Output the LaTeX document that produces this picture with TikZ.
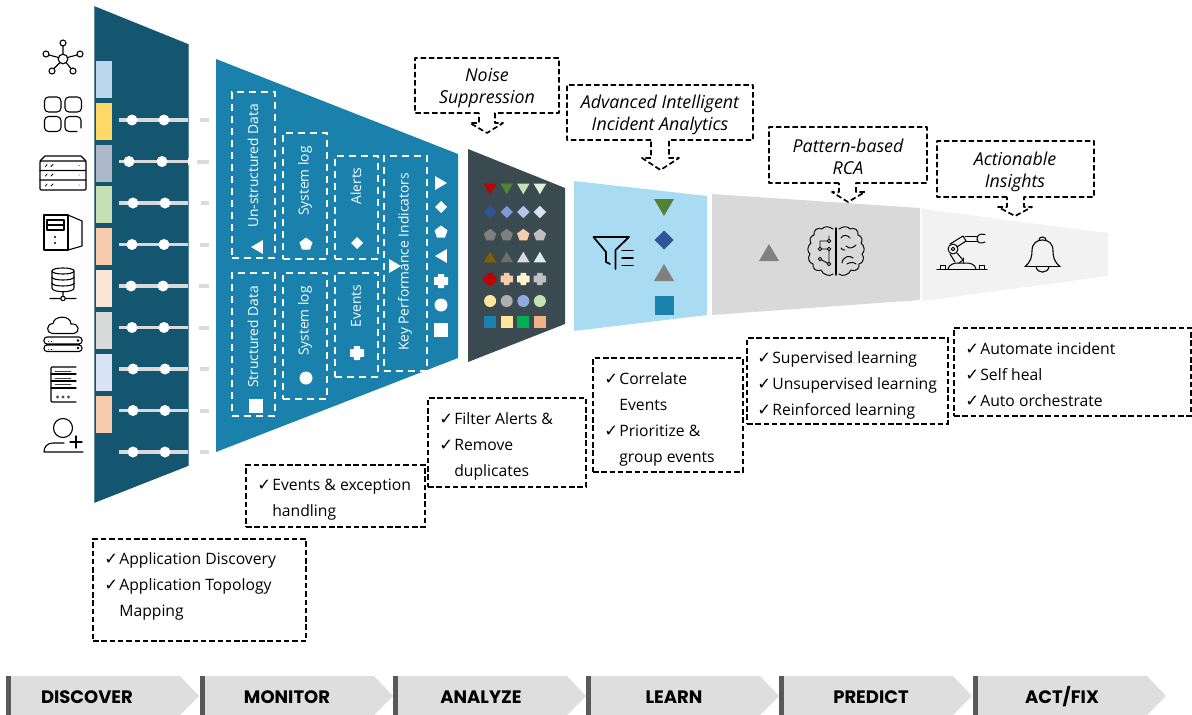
\documentclass[tikz,border=0pt]{standalone}
\usepackage{fontspec}
\setmainfont{Open Sans}
\newfontfamily\symfont{DejaVu Sans}
\newfontfamily\headfont{Poppins}
\usetikzlibrary{calc}
\definecolor{dkteal}{HTML}{14566F}
\definecolor{midblue}{HTML}{1A80AC}
\definecolor{slatec}{HTML}{3A4A50}
\definecolor{skyc}{HTML}{A9DBF2}
\tikzset{
  blackdash/.style={draw=black,line width=1.7pt,dash pattern=on 5.5pt off 2.8pt},
  whitedash/.style={draw=white,line width=1.4pt,dash pattern=on 7pt off 5pt},
  wbox/.style={whitedash,rectangle,inner sep=0pt,fill=none},
  rottext/.style={text=white,rotate=90,font=\fontsize{13.8}{17}\selectfont,inner sep=0pt},
  calltext/.style={align=center,font=\fontsize{17.8}{22}\selectfont\itshape,inner sep=0pt},
  listtext/.style={anchor=north west,align=left,inner sep=0pt,font=\fontsize{15.7}{26}\selectfont},
  listbox/.style={blackdash,rectangle,inner sep=0pt},
  headtext/.style={font=\fontsize{18}{20}\selectfont\headfont\bfseries,inner sep=0pt},
  ico/.style={draw=black,line width=1.1pt,line join=round,line cap=round,fill=none},
  barline/.style={draw=black!15,line width=3.6pt},
}
% small glyphs (x,y,radius,colour)
\newcommand{\mkDown}[4]{\fill[#4] ($(#1,#2)+(-#3,-#3*0.85)$)--($(#1,#2)+(#3,-#3*0.85)$)--($(#1,#2)+(0,#3*0.85)$)--cycle;}
\newcommand{\mkUp}[4]{\fill[#4] ($(#1,#2)+(-#3,#3*0.85)$)--($(#1,#2)+(#3,#3*0.85)$)--($(#1,#2)+(0,-#3*0.85)$)--cycle;}
\newcommand{\mkLeft}[4]{\fill[#4] ($(#1,#2)+(#3*0.85,-#3)$)--($(#1,#2)+(#3*0.85,#3)$)--($(#1,#2)+(-#3*0.85,0)$)--cycle;}
\newcommand{\mkRight}[4]{\fill[#4] ($(#1,#2)+(-#3*0.85,-#3)$)--($(#1,#2)+(-#3*0.85,#3)$)--($(#1,#2)+(#3*0.85,0)$)--cycle;}
\newcommand{\mkDia}[4]{\fill[#4] ($(#1,#2)+(-#3,0)$)--($(#1,#2)+(0,-#3)$)--($(#1,#2)+(#3,0)$)--($(#1,#2)+(0,#3)$)--cycle;}
\newcommand{\mkPent}[4]{\fill[#4] ($(#1,#2)+(0,-#3)$)--($(#1,#2)+(#3,-#3*0.25)$)--($(#1,#2)+(#3*0.62,#3*0.85)$)--($(#1,#2)+(-#3*0.62,#3*0.85)$)--($(#1,#2)+(-#3,-#3*0.25)$)--cycle;}
\newcommand{\mkPlus}[4]{\fill[#4,rounded corners=0.5pt] ($(#1,#2)+(-#3*0.45,-#3)$)--($(#1,#2)+(#3*0.45,-#3)$)--($(#1,#2)+(#3*0.45,-#3*0.55)$)--($(#1,#2)+(#3,-#3*0.55)$)--($(#1,#2)+(#3,#3*0.55)$)--($(#1,#2)+(#3*0.45,#3*0.55)$)--($(#1,#2)+(#3*0.45,#3)$)--($(#1,#2)+(-#3*0.45,#3)$)--($(#1,#2)+(-#3*0.45,#3*0.55)$)--($(#1,#2)+(-#3,#3*0.55)$)--($(#1,#2)+(-#3,-#3*0.55)$)--($(#1,#2)+(-#3*0.45,-#3*0.55)$)--cycle;}
\newcommand{\mkCirc}[4]{\fill[#4] (#1,#2) circle[radius=#3pt];}
\newcommand{\mkSq}[4]{\fill[#4] ($(#1,#2)+(-#3,-#3)$) rectangle ($(#1,#2)+(#3,#3)$);}
% callout: left, top, right, bottom, stemL, stemR, wingL, wingR, wingY
\newcommand{\mkCallout}[9]{\draw[blackdash,line join=round] (#5,#4)--(#1,#4)--(#1,#2)--(#3,#2)--(#3,#4)--(#6,#4)--(#6,#9)--(#8,#9)--(\tipx,\tipy)--(#7,#9)--(#5,#9)--cycle;}
\newcommand{\chk}{\makebox[15pt][l]{\symfont\fontsize{16.5}{26}\selectfont ✓}}
\newcommand{\ind}{\hspace*{15pt}}
\newcommand{\myrow}[4]{%
  \draw[barline] (119,#1)--(188,#1);
  \fill[white] (#2,#1) circle[radius=5.5pt] (#3,#1) circle[radius=5.5pt];
  \fill[black!14] (#4,#1-2) rectangle (209,#1+2);}
\begin{document}
\begin{tikzpicture}[x=1pt,y=-1pt]
\useasboundingbox (0,0) rectangle (1192,715);
% ----- funnels
\fill[dkteal] (94,6)--(188,44)--(188,466)--(94,503)--cycle;
\draw[dkteal!70!white,line width=.6pt] (94,6)--(94,503) (188,44)--(188,466);
\fill[midblue] (216,59)--(458,154)--(458,358)--(216,452)--cycle;
\fill[slatec] (468,149)--(565,188)--(565,324)--(468,362)--cycle;
\fill[skyc] (574,181)--(707,196)--(707,315)--(574,331)--cycle;
\fill[black!15] (712,194)--(920,208)--(920,300)--(712,315)--cycle;
\fill[black!5] (922,209)--(1108,233)--(1108,276)--(922,301)--cycle;
% ----- colour chips
\foreach \ya/\c in {61/BDD7EE,103/FFD966,145/ADB9CA,186/C5E0B4,228/F8CBAD,270/FBE5D6,312/D9D9D9,354/DAE3F3,396/F8CBAD}{
  \definecolor{chipc}{HTML}{\c}
  \fill[chipc] (96,\ya) rectangle (112,\ya+37);}
% ----- rows
\myrow{120}{132}{164}{200}
\myrow{161.5}{129}{162}{197}
\fill[white] (188,158)--(190,158)--(190,165)--(188,165)--cycle;
\myrow{203}{133}{165}{201}
\myrow{244.5}{132}{164}{200}
\myrow{286}{131}{163}{199}
\myrow{327.5}{132}{164}{199}
\myrow{369}{133}{165}{200}
\myrow{410.5}{133}{165}{200}
\myrow{452}{133}{165}{200}
% ----- left icons
\begin{scope}[ico]
% network
\draw (63,59) circle[radius=4.8pt] (63,43) circle[radius=3pt] (46,54) circle[radius=3pt] (80,54) circle[radius=3pt] (52,71) circle[radius=3pt] (73,71) circle[radius=3pt];
\draw (63,46)--(63,54) (49,55)--(58.5,57.5) (77,55)--(67.5,57.5) (54,68.5)--(60,62.5) (71,68.5)--(66,62.5);
% apps
\draw[rounded corners=4pt] (44.5,97) rectangle (61,112) (65,97) rectangle (81.5,112) (44.5,116.5) rectangle (61,131.5);
\draw[rounded corners=4pt] (81,128) -- (81,116.5)--(65,116.5)--(65,131.5)--(77,131.5);
% rack
\draw[rounded corners=1pt] (40,161) rectangle (86,190);
\draw (40,161)--(45,156)--(81,156)--(86,161) (40,170.5)--(86,170.5) (40,180)--(86,180);
\foreach \yy in {165.5,175,185}{\draw[line width=.8pt] (45.5,\yy+1)--(47,\yy-1) (51,\yy+1)--(53,\yy-1) (79,\yy)--(79.3,\yy);}
% tower
\draw (44,215) rectangle (68,250);
\draw (68,215)--(82,221)--(82,246)--(68,250);
\draw (47,220) rectangle (64,230) (47,225)--(64,225);
\fill[black] (55,237) circle[radius=1.2pt] (55,243) circle[radius=1.2pt];
% database
\draw (52,271) .. controls (52,267) and (74,267) .. (74,271) .. controls (74,275) and (52,275) .. (52,271);
\draw (52,271)--(52,288) .. controls (52,293) and (74,293) .. (74,288)--(74,271);
\draw (52,277) .. controls (52,281) and (74,281) .. (74,277) (52,283) .. controls (52,287) and (74,287) .. (74,283);
\draw (63,292)--(63,296) (50,298.5)--(60.5,298.5) (65.5,298.5)--(76,298.5) (63,298.5) circle[radius=2.2pt];
% cloud + servers
\draw (52,333.5) .. controls (46,333) and (46,324) .. (53,323.5) .. controls (54,315) and (71,315) .. (71,324) .. controls (80,323) and (80,333) .. (74,333.5) -- cycle;
\draw[rounded corners=3pt] (44,337) rectangle (82,344) (44,345) rectangle (82,351.5);
\fill[black] (78,340.5) circle[radius=1.3pt] (78,348) circle[radius=1.3pt];
\draw[line width=.5pt] (48.5,341)--(49,341) (51,341)--(52,341) (48.5,349)--(49,349) (51,349)--(52,349);
% server
\draw[rounded corners=1pt] (76,367)--(51,367)--(51,402)--(76,402);
\draw (51,374)--(76,374) (51,381)--(76,381) (51,388)--(76,388);
\draw[line width=.8pt,black!75] (55,371)--(71,371) (55,378)--(71,378) (55,384.5)--(71,384.5);
\fill[black!70] (57.5,397) circle[radius=1.6pt] (63,397) circle[radius=1.6pt] (68.5,397) circle[radius=1.6pt];
% user
\draw (63,428) circle[radius=9.5pt];
\draw (64,443)--(53,443) .. controls (47,443) and (44,447) .. (44,452)--(83,452);
\draw (76,436)--(76,448) (70,442)--(82,442);
\end{scope}
% ----- monitor boxes
\node[wbox,minimum width=43pt,minimum height=166pt] (unstr) at (253.5,175) {};
\node[wbox,minimum width=43pt,minimum height=143pt] (str) at (253.5,344.5) {};
\node[wbox,minimum width=44pt,minimum height=126pt] (syslogu) at (305,196) {};
\node[wbox,minimum width=44pt,minimum height=126pt] (sysloglo) at (305,336) {};
\node[wbox,minimum width=43pt,minimum height=103pt] (alerts) at (356.5,207.5) {};
\node[wbox,minimum width=43pt,minimum height=104pt] (events) at (356.5,325) {};
\node[wbox,minimum width=43pt,minimum height=215pt] (kpi) at (405.5,263.5) {};
\node[rottext] (t1) at (253,166) {Un-structured Data};
\node[rottext] (t2) at (253,337) {Structured Data};
\node[rottext] (t3) at (305,181) {System log};
\node[rottext] (t4) at (305,321) {System log};
\node[rottext] (t5) at (356,186) {Alerts};
\node[rottext] (t6) at (356,306) {Events};
\node[rottext] (t7) at (405,262) {Key Performance Indicators};
\mkLeft{257}{247}{7}{white}
\mkPent{306}{244}{6.5}{white}
\mkDia{357}{243}{6}{white}
\mkSq{256}{406}{7}{white}
\mkCirc{306}{378}{6.5}{white}
\mkPlus{357}{353}{7}{white}
\mkRight{395}{266}{7}{white}
\mkRight{441}{183}{7}{white}
\mkDia{441}{207}{6}{white}
\mkPent{441}{232}{6.5}{white}
\mkLeft{441}{256}{7}{white}
\mkPlus{441}{281}{7}{white}
\mkCirc{441}{305}{6.5}{white}
\mkSq{441}{330}{7}{white}
% ----- analyze grid
\foreach \c [count=\i] in {C00000,548235,C5E0B4,E2F0D9}{\definecolor{gc}{HTML}{\c}\pgfmathsetmacro\gx{473.5+16.6*\i}\mkDown{\gx}{189}{6.2}{gc}}
\foreach \c [count=\i] in {2F5597,7F9BD6,B4C7E7,DAE3F3}{\definecolor{gc}{HTML}{\c}\pgfmathsetmacro\gx{473.5+16.6*\i}\mkDia{\gx}{212}{6.2}{gc}}
\foreach \c [count=\i] in {7F7F7F,7F7F7F,F8CBAD,BFBFBF}{\definecolor{gc}{HTML}{\c}\pgfmathsetmacro\gx{473.5+16.6*\i}\mkPent{\gx}{235}{6.2}{gc}}
\foreach \c [count=\i] in {7F6000,6D6D6D,D6DCE5,DEEBF7}{\definecolor{gc}{HTML}{\c}\pgfmathsetmacro\gx{473.5+16.6*\i}\mkUp{\gx}{257}{6.2}{gc}}
\foreach \c [count=\i] in {C00000,F8CBAD,FFF2CC,BFBFBF}{\definecolor{gc}{HTML}{\c}\pgfmathsetmacro\gx{473.5+16.6*\i}\mkPlus{\gx}{279}{6.2}{gc}}
\foreach \c [count=\i] in {FFE699,AFAFAF,8FAADC,C5E0B4}{\definecolor{gc}{HTML}{\c}\pgfmathsetmacro\gx{473.5+16.6*\i}\mkCirc{\gx}{301}{6}{gc}}
\foreach \c [count=\i] in {1A80AC,FFE699,00B050,F4B183}{\definecolor{gc}{HTML}{\c}\pgfmathsetmacro\gx{473.5+16.6*\i}\mkSq{\gx}{322}{6}{gc}}
% ----- learn
\definecolor{gc}{HTML}{548235}\mkDown{664}{207.5}{10}{gc}
\definecolor{gc}{HTML}{2F5597}\mkDia{664}{240}{9.5}{gc}
\mkUp{664}{272.5}{10}{black!50}
\mkSq{664}{305}{9.5}{midblue}
\draw[ico,line width=1.7pt] (593.5,237)--(629,237)--(615.5,250)--(615.5,269) (593.5,237)--(606,252)--(606,262)--(610,264);
\draw[ico,line width=1.5pt] (622,250.5)--(633,250.5) (622,258)--(633,258) (622,265.5)--(633,265.5);
% ----- predict
\mkUp{769}{252.5}{10}{black!50}
\begin{scope}[ico,line width=.95pt]
\draw[line width=1.4pt] (836,228)--(836,275);
% brain outline left
\draw (833,229) .. controls (829,226) and (824,226) .. (822,229) .. controls (818,227) and (813,230) .. (814,235) .. controls (810,236) and (809,241) .. (811,243) .. controls (807,246) and (807,252) .. (810,254) .. controls (807,258) and (809,263) .. (813,264) .. controls (812,269) and (817,272) .. (821,270) .. controls (823,275) and (830,277) .. (833,274);
% brain outline right
\draw (839,229) .. controls (843,226) and (848,226) .. (850,229) .. controls (854,227) and (859,230) .. (858,235) .. controls (862,236) and (863,241) .. (861,243) .. controls (865,246) and (865,252) .. (862,254) .. controls (865,258) and (863,263) .. (859,264) .. controls (860,269) and (855,272) .. (851,270) .. controls (849,275) and (842,277) .. (839,274);
% circuits
\draw (829,236)--(829,241)--(820,241)--(820,249) (829,249)--(820,249) (829,249)--(829,264) (820,259)--(829,264);
\fill[white,draw=black] (829,241) circle[radius=1.7pt] (829,249) circle[radius=1.7pt] (820,249) circle[radius=1.7pt] (820,259) circle[radius=1.7pt] (829,264) circle[radius=1.7pt];
% folds
\draw (841,238) .. controls (843,234) and (848,235) .. (850,238) (846,246) .. controls (850,250) and (854,247) .. (856,245) (841,248) .. controls (842,250) and (843,250) .. (845,250) (842,263) .. controls (843,256) and (850,255) .. (853,258) (847,264) .. controls (850,262) and (854,262) .. (856,264);
\end{scope}
% ----- act
\begin{scope}[ico,line width=1pt]
\draw[line width=1.2pt] (937,269.5)--(987,269.5);
\draw (948,269) .. controls (949,264) and (955,263) .. (958,263)--(966,263) .. controls (970,263) and (975,264) .. (976,269);
\draw (940,269)--(940,265.5)--(945,265.5)--(945,269) (979,269)--(979,265.5)--(984,265.5)--(984,269);
\draw (953,249) circle[radius=5pt];
\draw (950,244)--(963,236)--(966,241)--(957,247) (957,253)--(963,260)--(959,263) (950,254)--(955,262);
\draw (963,263)--(963,258);
\draw (965,236.5)--(977,236.5)--(977,241)--(966,241);
\draw (985,234.5) .. controls (979,233) and (977,236) .. (977,239) .. controls (977,243) and (981,244) .. (985,242);
\fill[white,draw=black] (953,249) circle[radius=1.8pt];
\end{scope}
\begin{scope}[ico,line width=1.1pt]
\draw (1025,266.5)--(1060,266.5);
\draw (1025,266.5) .. controls (1031,262) and (1032,256) .. (1032,251) .. controls (1032,243) and (1037,240) .. (1042.5,240) .. controls (1048,240) and (1053,243) .. (1053,251) .. controls (1053,256) and (1054,262) .. (1060,266.5);
\draw (1039,240) .. controls (1039,236) and (1046,236) .. (1046,240);
\draw (1036,266.5) .. controls (1037,274) and (1048,274) .. (1049,266.5);
\end{scope}
% ----- callouts
\def\tipx{487}\def\tipy{133}
\mkCallout{415}{58}{559}{113}{479}{495}{470}{503}{123}
\def\tipx{660.5}\def\tipy{170}
\mkCallout{567}{85}{753}{140}{651}{669}{642}{679}{158}
\def\tipx{848}\def\tipy{202}
\mkCallout{769}{127}{927}{183}{839}{856}{832}{865}{192}
\def\tipx{1015}\def\tipy{216}
\mkCallout{937}{141}{1094}{197}{1007}{1024}{998}{1032}{207}
\node[calltext] (c1) at (487,88) {Noise\\Suppression};
\node[calltext] (c2) at (660,115) {Advanced Intelligent\\Incident Analytics};
\node[calltext] (c3) at (848,157) {Pattern-based\\RCA};
\node[calltext] (c4) at (1015,172) {Actionable\\Insights};
% ----- lists
\node[listbox,minimum width=213pt,minimum height=102pt] (lb1) at (199.5,590) {};
\node[listbox,minimum width=179pt,minimum height=62pt] (lb2) at (335.5,496) {};
\node[listbox,minimum width=158pt,minimum height=89pt] (lb3) at (507,442.5) {};
\node[listbox,minimum width=150pt,minimum height=114pt] (lb4) at (668,415) {};
\node[listbox,minimum width=201pt,minimum height=86pt] (lb5) at (847.5,381) {};
\node[listbox,minimum width=237pt,minimum height=88pt] (lb6) at (1072.5,372) {};
\node[listtext] (l1) at ($(lb1.north west)+(12,14)$) {\chk Application Discovery\\\chk Application Topology\\\ind Mapping};
\node[listtext] (l2) at ($(lb2.north west)+(12,15)$) {\chk Events \& exception\\\ind handling};
\node[listtext] (l3) at ($(lb3.north west)+(12,15)$) {\chk Filter Alerts \&\\\chk Remove\\\ind duplicates};
\node[listtext] (l4) at ($(lb4.north west)+(12,15)$) {\chk Correlate\\\ind Events\\\chk Prioritize \&\\\ind group events};
\node[listtext] (l5) at ($(lb5.north west)+(11,14)$) {\chk Supervised learning\\\chk Unsupervised learning\\\chk Reinforced learning};
\node[listtext] (l6) at ($(lb6.north west)+(12,15)$) {\chk Automate incident\\\chk Self heal\\\chk Auto orchestrate};
% ----- bottom chevrons
\foreach \xx/\nm/\cx [count=\k] in {6/DISCOVER/87,200/MONITOR/287,393/ANALYZE/481,586/LEARN/674,779/PREDICT/871,973/ACT\slash FIX/1062}{
  \fill[black!13] (\xx,676)--(\xx+174,676)--(\xx+193,696)--(\xx+174,715)--(\xx,715)--cycle;
  \fill[black!65] (\xx,676) rectangle (\xx+5,715);
  \node[headtext] (h\k) at (\cx,697) {\nm};
}
\end{tikzpicture}
\end{document}
